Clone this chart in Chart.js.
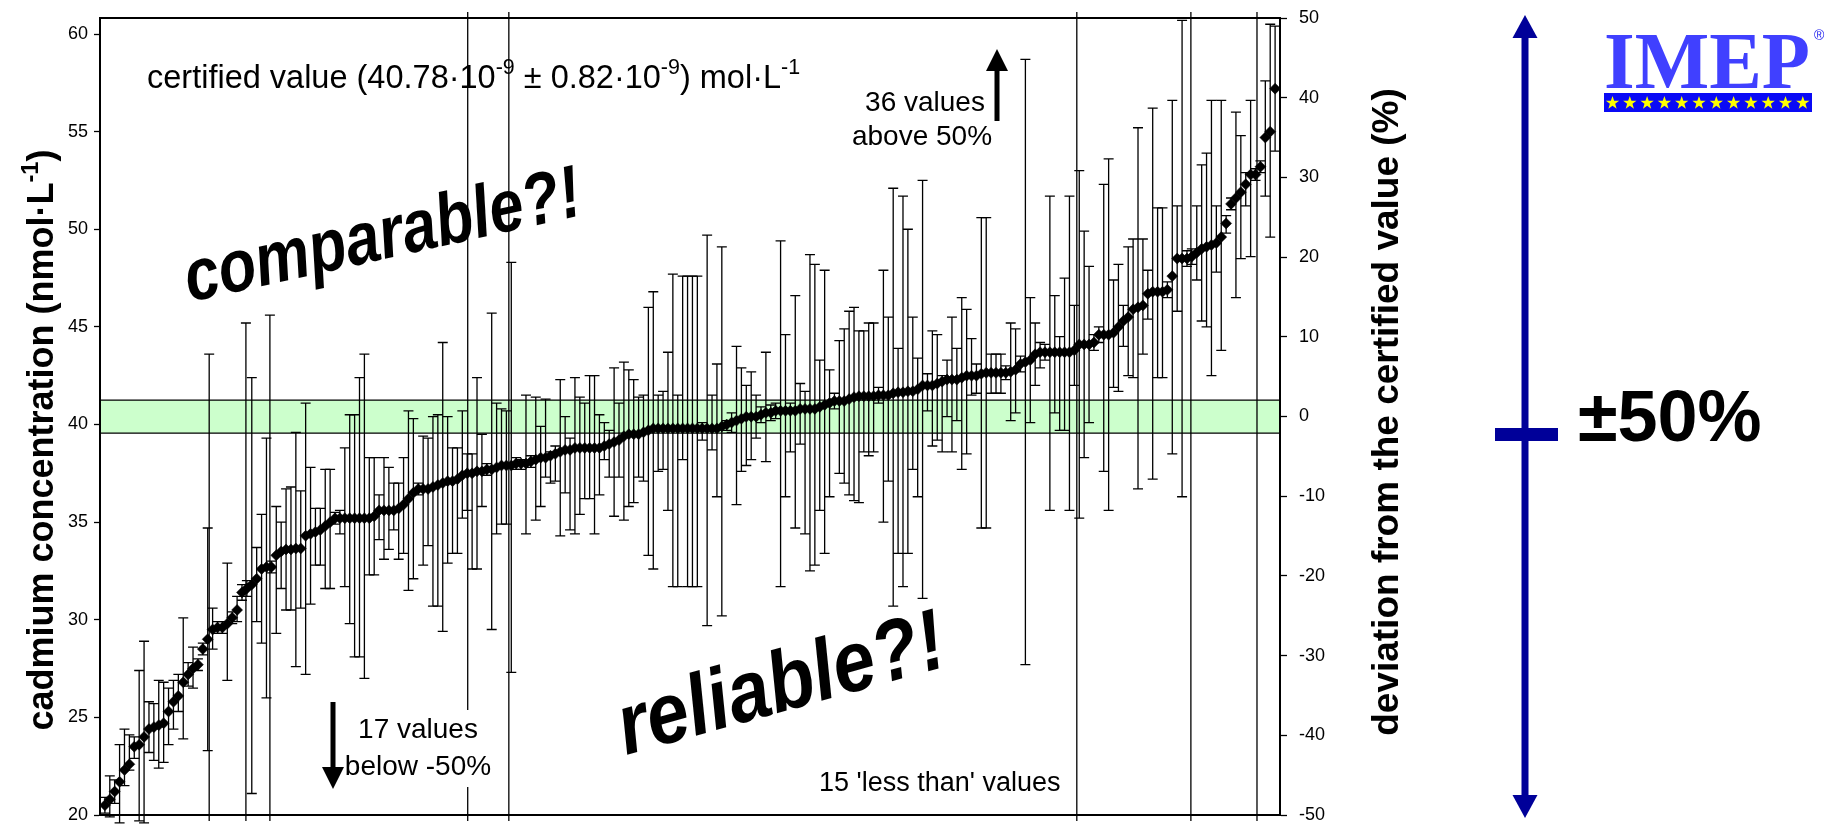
<!DOCTYPE html>
<html>
<head>
<meta charset="utf-8">
<script src="https://cdn.jsdelivr.net/npm/chart.js@4.4.1/dist/chart.umd.min.js"></script>
<style>
  html, body { margin: 0; padding: 0; background: #fff; }
  #wrap { width: 1842px; height: 824px; position: relative; }
</style>
</head>
<body>
<div id="wrap"><canvas id="chart" width="1842" height="824"></canvas></div>
<script>
// ── Data (nmol/L, sorted lab results) ────────────────────────────
const values = [
  20.5, 20.8, 21.2, 21.7, 22.3, 22.6, 23.5, 23.6, 24.0, 24.4,
  24.5, 24.6, 24.7, 25.3, 25.8, 26.1, 26.8, 27.2, 27.5, 27.7,
  28.5, 29.0, 29.5, 29.6, 29.6, 29.8, 30.1, 30.5, 31.4, 31.6,
  31.8, 32.1, 32.6, 32.7, 32.7, 33.3, 33.5, 33.6, 33.6, 33.65,
  33.65, 34.3, 34.4, 34.5, 34.6, 34.8, 35.0, 35.2, 35.2, 35.2,
  35.2, 35.2, 35.2, 35.2, 35.2, 35.3, 35.6, 35.6, 35.6, 35.6,
  35.7, 35.9, 36.2, 36.5, 36.7, 36.7, 36.7, 36.8, 36.9, 37.0,
  37.1, 37.1, 37.2, 37.4, 37.5, 37.5, 37.6, 37.6, 37.7, 37.7,
  37.8, 37.9, 37.9, 37.9, 38.0, 38.0, 38.0, 38.1, 38.2, 38.3,
  38.3, 38.4, 38.5, 38.6, 38.7, 38.7, 38.8, 38.8, 38.8, 38.8,
  38.8, 38.8, 38.9, 39.0, 39.1, 39.2, 39.4, 39.5, 39.5, 39.5,
  39.6, 39.7, 39.8, 39.8, 39.8, 39.8, 39.8, 39.8, 39.8, 39.8,
  39.8, 39.8, 39.8, 39.8, 39.8, 39.8, 39.9, 40.0, 40.1, 40.2,
  40.3, 40.4, 40.4, 40.4, 40.5, 40.6, 40.6, 40.7, 40.7, 40.7,
  40.7, 40.7, 40.8, 40.8, 40.8, 40.8, 40.9, 41.0, 41.1, 41.2,
  41.2, 41.2, 41.3, 41.4, 41.45, 41.45, 41.45, 41.45, 41.5, 41.5,
  41.5, 41.6, 41.65, 41.65, 41.7, 41.7, 41.8, 42.0, 42.0, 42.0,
  42.1, 42.2, 42.3, 42.3, 42.3, 42.4, 42.5, 42.5, 42.5, 42.6,
  42.65, 42.65, 42.65, 42.65, 42.65, 42.7, 42.8, 43.1, 43.2, 43.3,
  43.6, 43.7, 43.7, 43.7, 43.7, 43.7, 43.7, 43.7, 43.8, 44.1,
  44.1, 44.1, 44.2, 44.6, 44.6, 44.6, 44.7, 45.0, 45.3, 45.5,
  45.9, 46.0, 46.1, 46.7, 46.8, 46.8, 46.8, 46.9, 47.6, 48.5,
  48.5, 48.5, 48.6, 48.8, 49.0, 49.1, 49.2, 49.3, 49.6, 50.3,
  51.3, 51.6, 51.9, 52.3, 52.8, 52.8, 53.2, 54.7, 55.0, 57.2
];

const barLow = [
  20.1, 19.9, 20.6, 19.6, 21.5, 22.3, 22.9, 19.7, 19.6, 23.2,
  22.8, 22.4, 22.7, 23.6, 24.4, 25.3, 23.9, 26.6, 26.5, 27.4,
  28.2, 23.3, 28.5, 29.3, 29.3, 26.9, 29.8, 29.9, 31.0, 31.2,
  21.1, 29.9, 28.8, 26.0, 32.4, 29.3, 31.6, 30.5, 30.5, 27.6,
  30.6, 27.2, 30.8, 32.8, 32.8, 31.6, 31.6, 34.9, 34.4, 31.7,
  29.8, 28.1, 28.1, 27.0, 32.3, 32.3, 34.1, 33.1, 33.6, 34.6,
  33.1, 33.4, 31.5, 32.1, 36.4, 32.8, 33.8, 30.7, 30.7, 29.4,
  32.9, 33.4, 33.4, 35.2, 35.6, 32.6, 32.6, 35.8, 37.4, 29.5,
  34.4, 34.9, 34.9, 27.3, 37.7, 37.7, 34.4, 37.8, 35.1, 35.8,
  37.3, 37.0, 37.1, 34.3, 36.5, 34.6, 34.4, 35.4, 36.2, 36.2,
  34.4, 36.4, 38.2, 37.3, 35.3, 37.3, 35.1, 35.8, 36.0, 37.3,
  37.1, 33.3, 32.6, 37.6, 37.7, 35.6, 31.7, 31.7, 38.2, 31.7,
  31.7, 31.7, 39.2, 29.7, 38.7, 36.3, 30.2, 39.7, 39.6, 35.9,
  37.6, 37.9, 38.2, 39.3, 40.1, 38.1, 40.2, 40.3, 31.7, 36.3,
  38.6, 34.7, 39.0, 34.4, 32.5, 32.8, 35.6, 33.4, 36.3, 40.8,
  37.5, 37.0, 36.4, 36.1, 36.0, 38.6, 38.4, 38.6, 41.1, 35.0,
  37.1, 30.7, 33.4, 31.7, 33.4, 37.7, 36.3, 31.1, 40.7, 38.9,
  39.2, 38.6, 40.4, 38.6, 40.2, 37.7, 38.5, 41.5, 41.6, 34.7,
  34.7, 41.6, 41.6, 41.6, 42.3, 40.2, 40.6, 42.7, 27.7, 40.1,
  42.0, 42.9, 43.3, 35.6, 40.6, 39.7, 39.7, 35.6, 42.0, 35.2,
  38.3, 40.1, 43.8, 44.2, 37.6, 35.6, 41.9, 41.7, 44.0, 42.5,
  42.4, 36.7, 43.6, 45.4, 37.2, 42.4, 42.4, 46.5, 38.5, 45.8,
  36.3, 48.1, 48.2, 47.4, 45.3, 45.0, 42.5, 47.8, 43.8, 49.8,
  51.0, 46.5, 48.5, 51.2, 48.6, 52.5, 52.9, 51.7, 49.6, 54.0
];

const barHigh = [
  20.9, 22.0, 21.8, 23.6, 24.4, 24.1, 24.0, 27.4, 28.9, 25.8,
  25.7, 26.9, 26.8, 26.5, 26.9, 27.2, 30.1, 27.8, 28.6, 28.0,
  28.8, 34.7, 30.6, 29.9, 29.9, 32.9, 30.4, 31.2, 31.8, 32.0,
  42.4, 33.7, 35.4, 39.3, 33.0, 35.8, 35.0, 36.7, 36.8, 39.6,
  36.6, 41.1, 37.8, 35.7, 35.7, 37.7, 37.7, 35.5, 35.6, 38.8,
  40.5, 40.5, 42.4, 43.6, 38.3, 38.3, 36.4, 38.3, 37.8, 37.0,
  37.0, 38.3, 40.7, 40.3, 37.0, 39.4, 39.3, 40.4, 40.5, 44.2,
  40.4, 38.8, 38.8, 40.7, 38.5, 38.5, 42.4, 39.5, 38.0, 45.7,
  41.1, 40.8, 40.7, 48.3, 38.3, 38.2, 41.5, 38.4, 41.4, 39.9,
  41.3, 38.6, 38.9, 42.3, 40.4, 39.3, 42.4, 41.4, 41.1, 42.5,
  42.5, 40.5, 40.1, 39.7, 42.9, 41.1, 43.2, 42.8, 42.3, 41.4,
  41.5, 46.0, 46.8, 41.5, 41.7, 43.7, 47.7, 41.5, 47.6, 47.6,
  47.6, 47.6, 40.1, 49.7, 41.5, 43.1, 49.1, 40.2, 40.6, 44.0,
  42.9, 42.0, 42.7, 41.5, 40.9, 43.7, 41.0, 41.1, 49.4, 44.6,
  41.1, 46.6, 42.1, 41.7, 48.7, 48.2, 43.3, 47.9, 42.8, 41.6,
  44.3, 44.9, 45.8, 46.0, 44.8, 44.8, 45.2, 45.2, 41.9, 47.9,
  45.5, 52.1, 43.9, 51.7, 50.0, 45.5, 43.4, 52.5, 42.6, 44.8,
  44.6, 42.5, 43.3, 45.5, 43.9, 46.5, 45.9, 44.4, 43.1, 50.6,
  50.6, 43.6, 43.6, 43.6, 43.0, 45.2, 44.9, 43.5, 58.7, 46.5,
  45.2, 44.2, 44.1, 51.7, 46.6, 44.5, 47.5, 51.7, 46.1, 53.0,
  49.9, 48.1, 44.6, 45.0, 52.3, 53.6, 47.4, 48.2, 46.1, 49.1,
  49.5, 55.2, 49.5, 47.9, 56.2, 51.1, 51.1, 47.3, 56.6, 51.2,
  60.7, 48.9, 49.0, 51.2, 53.3, 53.9, 56.6, 51.2, 56.6, 50.7,
  51.6, 56.0, 54.8, 52.9, 56.6, 53.1, 53.5, 57.6, 60.5, 60.4
];

// 'less than' results: position in the ranking and the stated limit
const lessThanPos = [22.3, 29.8, 34.7, 75.1, 83.5, 199.5, 222.8, 236.3];
const lessThanVal = [43.6, 45.2, 45.6, 65, 65, 65, 65, 65];

const LEFT_TICKS = [20, 25, 30, 35, 40, 45, 50, 55, 60];
const RIGHT_TICKS = [-50, -40, -30, -20, -10, 0, 10, 20, 30, 40, 50];
const CERT_BAND = [39.56, 41.25];


// ── Helpers ──────────────────────────────────────────────────────
const SANS = '"Liberation Sans", Arial, sans-serif';

function richWidth(ctx, parts, size, weight) {
  let w = 0;
  parts.forEach(p => {
    ctx.font = `${weight} ${p.sup ? size * 0.66 : size}px ${SANS}`;
    w += ctx.measureText(p.t).width;
  });
  return w;
}

function drawRich(ctx, parts, x, y, size, weight) {
  parts.forEach(p => {
    const s = p.sup ? size * 0.66 : size;
    ctx.font = `${weight} ${s}px ${SANS}`;
    ctx.fillText(p.t, x, p.sup ? y - size * 0.42 : y);
    x += ctx.measureText(p.t).width;
  });
}

function drawSlanted(ctx, text, x, y, deg, size, length) {
  ctx.save();
  ctx.font = `italic bold ${size}px ${SANS}`;
  const w = ctx.measureText(text).width;
  ctx.translate(x, y);
  ctx.rotate(deg * Math.PI / 180);
  ctx.scale(length / w, 1);
  ctx.fillText(text, 0, 0);
  ctx.restore();
}

function arrow(ctx, x, yFrom, yTo, shaft, headW, headH, color) {
  const dir = yTo < yFrom ? -1 : 1;
  ctx.fillStyle = color;
  ctx.fillRect(x - shaft / 2, Math.min(yFrom, yTo - dir * headH), shaft, Math.abs(yTo - dir * headH - yFrom));
  ctx.beginPath();
  ctx.moveTo(x, yTo);
  ctx.lineTo(x + headW / 2, yTo - dir * headH);
  ctx.lineTo(x - headW / 2, yTo - dir * headH);
  ctx.closePath();
  ctx.fill();
}

function star(ctx, cx, cy, r) {
  ctx.beginPath();
  for (let k = 0; k < 10; k++) {
    const rad = k % 2 === 0 ? r : r * 0.4;
    const a = -Math.PI / 2 + k * Math.PI / 5;
    ctx.lineTo(cx + rad * Math.cos(a), cy + rad * Math.sin(a));
  }
  ctx.closePath();
  ctx.fill();
}


// ── Under the points: band, words, bars ──────────────────────────
const underlay = {
  id: 'underlay',
  beforeDatasetsDraw(chart) {
    const { ctx, chartArea: a, scales: { x, y } } = chart;
    ctx.save();

    // certified value band
    const bTop = y.getPixelForValue(CERT_BAND[1]);
    const bBot = y.getPixelForValue(CERT_BAND[0]);
    ctx.fillStyle = '#ccffcc';
    ctx.fillRect(a.left, bTop, a.right - a.left, bBot - bTop);
    ctx.strokeStyle = '#000';
    ctx.lineWidth = 1.3;
    ctx.beginPath();
    ctx.moveTo(a.left, bTop); ctx.lineTo(a.right, bTop);
    ctx.moveTo(a.left, bBot); ctx.lineTo(a.right, bBot);
    ctx.stroke();

    // text inside plot
    ctx.fillStyle = '#000';
    ctx.textBaseline = 'alphabetic';
    drawRich(ctx, [
      { t: 'certified value (40.78·10' }, { t: '-9', sup: true },
      { t: ' ± 0.82·10' }, { t: '-9', sup: true },
      { t: ') mol·L' }, { t: '-1', sup: true }
    ], 147, 88, 32.5, 'normal');

    ctx.font = `28px ${SANS}`;
    ctx.textAlign = 'center';
    ctx.fillText('36 values', 925, 111);
    ctx.fillText('above 50%', 922, 145);
    ctx.font = `27px ${SANS}`;
    ctx.textAlign = 'left';
    ctx.fillText("15 'less than' values", 819, 791);

    drawSlanted(ctx, 'comparable?!', 190, 302, -12.5, 74, 404);
    drawSlanted(ctx, 'reliable?!', 626, 755, -15.5, 86, 336);

    // 'less than' lines
    ctx.strokeStyle = '#000';
    ctx.lineWidth = 1.3;
    lessThanPos.forEach((p, k) => {
      const px = x.getPixelForValue(p);
      const yv = y.getPixelForValue(lessThanVal[k]);
      const top = Math.max(yv, a.top - 6);
      ctx.beginPath();
      ctx.moveTo(px, a.bottom + 6);
      ctx.lineTo(px, top);
      if (yv > a.top) { ctx.moveTo(px - 5, top); ctx.lineTo(px + 5, top); }
      ctx.stroke();
    });

    // uncertainty bars
    values.forEach((v, i) => {
      const px = x.getPixelForValue(i + 1);
      const lo = y.getPixelForValue(barLow[i]);
      const hi = y.getPixelForValue(barHigh[i]);
      ctx.beginPath();
      ctx.moveTo(px, lo); ctx.lineTo(px, hi);
      ctx.moveTo(px - 5, lo); ctx.lineTo(px + 5, lo);
      ctx.moveTo(px - 5, hi); ctx.lineTo(px + 5, hi);
      ctx.stroke();
    });

    ctx.restore();
  }
};


// ── Over everything: frame, titles, arrows, logo ─────────────────
const overlay = {
  id: 'overlay',
  afterDraw(chart) {
    const { ctx, chartArea: a } = chart;
    ctx.save();

    ctx.strokeStyle = '#000';
    ctx.lineWidth = 2;
    ctx.strokeRect(a.left, a.top, a.right - a.left, a.bottom - a.top);

    // below -50% note with its white box
    ctx.fillStyle = '#fff';
    ctx.fillRect(347, 710, 142, 77);
    ctx.fillStyle = '#000';
    ctx.font = `28px ${SANS}`;
    ctx.textAlign = 'center';
    ctx.fillText('17 values', 418, 738);
    ctx.fillText('below -50%', 418, 775);
    ctx.textAlign = 'left';

    arrow(ctx, 333, 702, 789, 5, 22, 22, '#000');
    arrow(ctx, 997, 121, 49, 5, 22, 22, '#000');

    // axis titles
    const leftTitle = [{ t: 'cadmium concentration (nmol·L' }, { t: '-1', sup: true }, { t: ')' }];
    ctx.save();
    ctx.translate(53, 440);
    ctx.rotate(-Math.PI / 2);
    drawRich(ctx, leftTitle, -richWidth(ctx, leftTitle, 36, 'bold') / 2, 0, 36, 'bold');
    ctx.restore();

    const rightTitle = [{ t: 'deviation from the certified value (%)' }];
    ctx.save();
    ctx.translate(1398, 412);
    ctx.rotate(-Math.PI / 2);
    drawRich(ctx, rightTitle, -richWidth(ctx, rightTitle, 37, 'bold') / 2, 0, 37, 'bold');
    ctx.restore();

    // ±50% range arrow
    const navy = '#000099';
    arrow(ctx, 1525, 420, 15, 7, 25, 23, navy);
    arrow(ctx, 1525, 420, 818, 7, 25, 23, navy);
    ctx.fillRect(1495, 428, 63, 13);

    ctx.fillStyle = '#000';
    ctx.font = `bold 72px ${SANS}`;
    ctx.fillText('±50%', 1578, 441);

    // IMEP logo
    ctx.save();
    ctx.font = 'bold 80px "Liberation Serif", "Times New Roman", serif';
    const lw = ctx.measureText('IMEP').width;
    const grad = ctx.createLinearGradient(0, 35, 0, 88);
    grad.addColorStop(0, '#4040ff');
    grad.addColorStop(1, '#1010e0');
    ctx.fillStyle = grad;
    ctx.translate(1604, 88);
    ctx.scale(206 / lw, 1);
    ctx.fillText('IMEP', 0, 0);
    ctx.restore();

    ctx.fillStyle = '#0a0af5';
    ctx.fillRect(1604, 93, 208, 19);
    ctx.fillStyle = '#ffff00';
    for (let k = 0; k < 12; k++) star(ctx, 1612.5 + k * 17.3, 103, 7);

    ctx.fillStyle = '#2020ee';
    ctx.font = `14px ${SANS}`;
    ctx.fillText('®', 1814, 40);

    ctx.restore();
  }
};


// ── Chart ────────────────────────────────────────────────────────
const tickFont = { family: SANS, size: 18 };

new Chart(document.getElementById('chart'), {
  type: 'scatter',
  data: {
    datasets: [{
      data: values.map((v, i) => ({ x: i + 1, y: v })),
      yAxisID: 'y',
      pointStyle: 'rectRot',
      pointRadius: 5.5,
      pointBackgroundColor: '#000',
      pointBorderColor: '#000',
      pointBorderWidth: 0.5
    }]
  },
  options: {
    responsive: false,
    animation: false,
    devicePixelRatio: 1,
    layout: { padding: { left: 0, right: 442, top: 18, bottom: 9 } },
    plugins: {
      legend: { display: false },
      tooltip: { enabled: false }
    },
    scales: {
      x: { type: 'linear', min: 0, max: values.length + 1, display: false },
      y: {
        position: 'left',
        min: 20,
        max: 60.82,
        afterBuildTicks: s => { s.ticks = LEFT_TICKS.map(v => ({ value: v })); },
        afterFit: s => { s.width = 100; s.paddingTop = 0; s.paddingBottom = 0; },
        ticks: { font: tickFont, color: '#000', padding: 6 },
        grid: { drawOnChartArea: false, tickLength: 6, tickColor: '#000', tickWidth: 1.3 },
        border: { display: true, color: '#000', width: 2 }
      },
      y2: {
        position: 'right',
        min: -50,
        max: 50,
        afterBuildTicks: s => { s.ticks = RIGHT_TICKS.map(v => ({ value: v })); },
        afterFit: s => { s.width = 120; s.paddingTop = 0; s.paddingBottom = 0; },
        ticks: { font: tickFont, color: '#000', padding: 12 },
        grid: { drawOnChartArea: false, tickLength: 7, tickColor: '#000', tickWidth: 1.3 },
        border: { display: true, color: '#000', width: 2 }
      }
    }
  },
  plugins: [underlay, overlay]
});
</script>
</body>
</html>
